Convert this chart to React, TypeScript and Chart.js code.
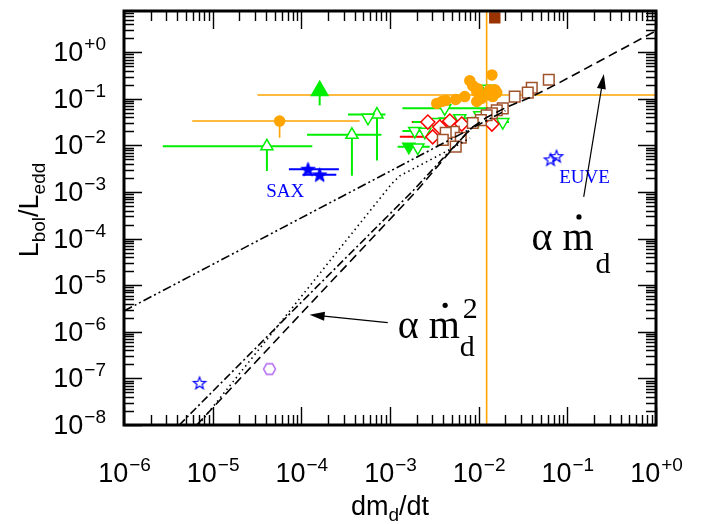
import React, { useEffect, useRef } from "react";
import { Chart, registerables } from "chart.js";

Chart.register(...registerables);

// ---------------- axes ----------------
const X_MIN = 1e-6;
const X_MAX = 1;
const Y_MIN = 1e-8;
const Y_MAX = 7.7;
const X_TICK_EXPONENTS = [-6, -5, -4, -3, -2, -1, 0];
const Y_TICK_EXPONENTS = [-8, -7, -6, -5, -4, -3, -2, -1, 0];

// ---------------- data ----------------
const orangeCluster = [
  { x: 3.37e-3, y: 0.08 }, { x: 3.84e-3, y: 0.088 }, { x: 4.26e-3, y: 0.0925 },
  { x: 5.51e-3, y: 0.097 }, { x: 6.96e-3, y: 0.112 }, { x: 7.94e-3, y: 0.245 },
  { x: 8.58e-3, y: 0.192 }, { x: 9.52e-3, y: 0.143 }, { x: 0.0103, y: 0.13 },
  { x: 9.52e-3, y: 0.088 }, { x: 0.0108, y: 0.102 }, { x: 0.0133, y: 0.158 },
  { x: 0.0141, y: 0.327 }, { x: 0.0144, y: 0.112 }, { x: 0.0152, y: 0.158 },
  { x: 0.016, y: 0.136 }, { x: 9.77e-3, y: 0.166 },
];
const orangeWithErrors = [
  { x: 5.69e-5, y: 0.0334, xl: 5.88e-6, xh: 4.55e-4, yl: 0.0146 },
  { x: 0.0123, y: 0.121, xl: 3.2e-5, xh: 10, yl: 1e-10, yh: 100 },
];
const greenFilledUp = [{ x: 1.61e-4, y: 0.15, yl: 0.0726 }];
const greenOpenUp = [
  { x: 4.09e-5, y: 9.57e-3, xl: 2.74e-6, xh: 1.33e-4, yl: 2.84e-3 },
  { x: 3.72e-4, y: 0.0169, xl: 1.16e-4, xh: 8.0e-4, yl: 2.23e-3 },
  { x: 7.13e-4, y: 0.0462, xl: 3.36e-4, xh: 8.87e-4, yl: 4.78e-3 },
];
const greenOpenDown = [
  { x: 5.65e-4, y: 0.0392 },
  { x: 1.9e-3, y: 0.0205, xl: 1.38e-3, xh: 2.6e-3 },
  { x: 2.47e-3, y: 0.0196 },
  { x: 3.2e-3, y: 0.0318, xl: 1.8e-3, xh: 4.5e-3 },
  { x: 6.12e-3, y: 0.0386, xl: 3.5e-3, xh: 8e-3 },
  { x: 0.0103, y: 0.0447 },
  { x: 0.0187, y: 0.0318, xl: 0.0127, xh: 0.022 },
  { x: 2.06e-3, y: 9.0e-3 },
  { x: 0.0127, y: 0.166, xl: 0.0105, xh: 0.0155 },
  { x: 4.14e-3, y: 0.0627, xl: 1.38e-3, xh: 0.0127 },
];
const greenFilledDown = [
  { x: 1.63e-3, y: 9.44e-3, xl: 1.22e-3, xh: 2.8e-3 },
  { x: 9.77e-3, y: 0.0334 },
];
const redDiamonds = [
  { x: 2.67e-3, y: 0.0318, xl: 1.76e-3, xh: 3.5e-3 },
  { x: 3.64e-3, y: 0.0249 },
  { x: 4.72e-3, y: 0.0334 },
  { x: 6.44e-3, y: 0.0288 },
  { x: 3.03e-3, y: 0.0153, xl: 1.29e-3, xh: 4e-3 },
  { x: 0.0141, y: 0.0288 },
];
const brownOpenSquares = [
  { x: 0.0618, y: 0.257 }, { x: 0.0397, y: 0.174 }, { x: 0.0358, y: 0.136 },
  { x: 0.0255, y: 0.112 }, { x: 0.0187, y: 0.0627 }, { x: 0.016, y: 0.0569 },
  { x: 0.0141, y: 0.0492 }, { x: 0.0123, y: 0.0447 }, { x: 0.0106, y: 0.035 },
  { x: 8.58e-3, y: 0.0303 }, { x: 5.24e-3, y: 0.0196 }, { x: 4.25e-3, y: 0.0186 },
  { x: 3.94e-3, y: 0.0132 }, { x: 6.28e-3, y: 0.0146 },
  { x: 5.51e-3, y: 0.00944, xl: 4.72e-3, xh: 8.36e-3 },
];
const brownFilledSquare = [{ x: 0.0152, y: 5.48 }];
const blueFilledStars = [
  { x: 1.19e-4, y: 3.09e-3, xl: 7.24e-5, xh: 2.65e-4 },
  { x: 1.61e-4, y: 2.34e-3, xl: 1.03e-4, xh: 2.48e-4 },
];
const blueOpenStars = [
  { x: 0.0646, y: 5.02e-3 }, { x: 0.0755, y: 5.89e-3 }, { x: 7.11e-6, y: 8.04e-8 },
];
const purpleHexagon = [{ x: 4.38e-5, y: 1.59e-7 }];

// model curves
const curveDashed = [
  { x: 6.6e-6, y: 1.0e-8 }, { x: 1.09e-4, y: 2.97e-6 }, { x: 2.0e-3, y: 1.06e-3 },
  { x: 4.34e-3, y: 6.0e-3 }, { x: 6.6e-3, y: 0.015 }, { x: 8.6e-3, y: 0.025 },
  { x: 0.0123, y: 0.04 }, { x: 0.0206, y: 0.066 }, { x: 0.0378, y: 0.107 },
  { x: 0.076, y: 0.208 }, { x: 1, y: 2.9 },
];
const curveDashDot = [
  { x: 4.2e-6, y: 1.0e-8 }, { x: 9.1e-5, y: 3.6e-6 }, { x: 1.76e-3, y: 1.0e-3 },
  { x: 4.34e-3, y: 6.4e-3 }, { x: 8.6e-3, y: 0.025 },
];
const curveDotted = [
  { x: 6.9e-6, y: 1.0e-8 }, { x: 8.4e-5, y: 3.8e-6 }, { x: 1.04e-3, y: 1.49e-3 },
  { x: 1.29e-3, y: 2.23e-3 }, { x: 4.34e-3, y: 7.5e-3 }, { x: 8e-3, y: 0.0145 },
];
const curveDashDotDot = [
  { x: 1e-6, y: 2.8e-6 }, { x: 0.02, y: 0.056 },
];

// annotations (data coordinates)
const textLabels = [
  { text: "SAX", x: 6.59e-5, y: 1.01e-3 },
  { text: "EUVE", x: 0.156, y: 2.0e-3 },
];
const arrowLinear = { from: { x: 0.153, y: 7.9e-4 }, to: { x: 0.258, y: 0.343 } };
const arrowSquare = { from: { x: 9.42e-4, y: 1.58e-6 }, to: { x: 1.24e-4, y: 2.33e-6 } };
const labelLinearAt = { x: 0.0394, y: 5.74e-5 };
const labelSquareAt = { x: 1.22e-3, y: 7.26e-7 };

// ---------------- helpers ----------------
const SANS = '"Liberation Sans", Arial, sans-serif';
const SERIF = '"Liberation Serif", "Times New Roman", serif';
const GREEN = "#00ee00";
const ORANGE = "#ffa500";

function makeStar(R: number, color: string, filled: boolean, lw: number) {
  const s = Math.ceil(2 * R + lw * 2 + 2);
  const c = document.createElement("canvas");
  c.width = s; c.height = s;
  const g = c.getContext("2d")!;
  g.beginPath();
  for (let i = 0; i < 10; i++) {
    const r = i % 2 === 0 ? R : R * 0.42;
    const a = -Math.PI / 2 + (i * Math.PI) / 5;
    const px = s / 2 + r * Math.cos(a);
    const py = s / 2 + 0.6 + r * Math.sin(a);
    if (i === 0) g.moveTo(px, py); else g.lineTo(px, py);
  }
  g.closePath();
  if (filled) { g.fillStyle = color; g.fill(); }
  g.strokeStyle = color; g.lineWidth = lw; g.stroke();
  return c;
}
function makeHexagon(R: number, color: string, lw: number) {
  const s = Math.ceil(2 * R + lw * 2 + 2);
  const c = document.createElement("canvas");
  c.width = s; c.height = s;
  const g = c.getContext("2d")!;
  g.beginPath();
  for (let i = 0; i < 6; i++) {
    const a = (i * Math.PI) / 3;
    const px = s / 2 + R * Math.cos(a);
    const py = s / 2 + R * Math.sin(a);
    if (i === 0) g.moveTo(px, py); else g.lineTo(px, py);
  }
  g.closePath();
  g.fillStyle = "#fff"; g.fill();
  g.strokeStyle = color; g.lineWidth = lw; g.stroke();
  return c;
}
function expText(e: number) {
  return e < 0 ? "\u2212" + Math.abs(e) : "+" + e;
}

const errorBarPlugin = {
  id: "errorBars",
  beforeDatasetsDraw(chart: any) {
    const { ctx, chartArea: a, scales } = chart;
    const xs = scales.x, ys = scales.y;
    ctx.save();
    ctx.beginPath();
    ctx.rect(a.left, a.top, a.right - a.left, a.bottom - a.top);
    ctx.clip();
    chart.data.datasets.forEach((ds: any) => {
      if (!ds.errColor) return;
      ctx.strokeStyle = ds.errColor;
      ctx.lineWidth = ds.errWidth || 2;
      ds.data.forEach((p: any) => {
        const px = xs.getPixelForValue(p.x), py = ys.getPixelForValue(p.y);
        ctx.beginPath();
        if (p.xl !== undefined) { ctx.moveTo(xs.getPixelForValue(p.xl), py); ctx.lineTo(px, py); }
        if (p.xh !== undefined) { ctx.moveTo(px, py); ctx.lineTo(xs.getPixelForValue(p.xh), py); }
        if (p.yl !== undefined) { ctx.moveTo(px, py); ctx.lineTo(px, ys.getPixelForValue(p.yl)); }
        if (p.yh !== undefined) { ctx.moveTo(px, py); ctx.lineTo(px, ys.getPixelForValue(p.yh)); }
        ctx.stroke();
      });
    });
    ctx.restore();
  },
};

function drawArrow(ctx: CanvasRenderingContext2D, x1: number, y1: number, x2: number, y2: number) {
  const ang = Math.atan2(y2 - y1, x2 - x1);
  const L = 15, W = 4.5;
  ctx.beginPath();
  ctx.moveTo(x1, y1);
  ctx.lineTo(x2 - Math.cos(ang) * L * 0.8, y2 - Math.sin(ang) * L * 0.8);
  ctx.stroke();
  ctx.beginPath();
  ctx.moveTo(x2, y2);
  ctx.lineTo(x2 - Math.cos(ang) * L - Math.sin(ang) * W, y2 - Math.sin(ang) * L + Math.cos(ang) * W);
  ctx.lineTo(x2 - Math.cos(ang) * L + Math.sin(ang) * W, y2 - Math.sin(ang) * L - Math.cos(ang) * W);
  ctx.closePath();
  ctx.fill();
}

function drawMdot(ctx: CanvasRenderingContext2D, x: number, y: number, squared: boolean) {
  ctx.fillStyle = "#000";
  ctx.textAlign = "left";
  ctx.textBaseline = "alphabetic";
  ctx.font = `40px ${SERIF}`;
  ctx.fillText("\u03b1", x, y);
  ctx.fillText("m", x + 31, y);
  ctx.beginPath();
  ctx.arc(x + 47.5, y - 33, 2.6, 0, Math.PI * 2);
  ctx.fill();
  ctx.font = `30px ${SERIF}`;
  ctx.fillText("d", x + (squared ? 62 : 64), y + (squared ? 18 : 23));
  if (squared) ctx.fillText("2", x + 65, y - 20);
}

const framePlugin = {
  id: "frameTicks",
  afterDatasetsDraw(chart: any) {
    const { ctx, chartArea: a, scales } = chart;
    const xs = scales.x, ys = scales.y;
    ctx.save();
    ctx.strokeStyle = "#000";
    ctx.lineWidth = 1.4;
    ctx.beginPath();
    X_TICK_EXPONENTS.forEach((e) => {
      for (let m = 1; m <= 9; m++) {
        const v = m * Math.pow(10, e);
        if (v < X_MIN * 0.999 || v > X_MAX * 1.001) continue;
        const px = Math.round(xs.getPixelForValue(v)) + 0.5;
        const len = m === 1 ? 18 : 10;
        ctx.moveTo(px, a.bottom); ctx.lineTo(px, a.bottom - len);
        ctx.moveTo(px, a.top); ctx.lineTo(px, a.top + len);
      }
    });
    Y_TICK_EXPONENTS.forEach((e) => {
      for (let m = 1; m <= 9; m++) {
        const v = m * Math.pow(10, e);
        if (v < Y_MIN * 0.999 || v > Y_MAX * 1.001) continue;
        const py = Math.round(ys.getPixelForValue(v)) + 0.5;
        const len = m === 1 ? 18 : 10;
        ctx.moveTo(a.left, py); ctx.lineTo(a.left + len, py);
        ctx.moveTo(a.right, py); ctx.lineTo(a.right - len, py);
      }
    });
    ctx.stroke();
    ctx.lineWidth = 3;
    ctx.strokeRect(a.left, a.top, a.right - a.left, a.bottom - a.top);

    // tick labels
    ctx.fillStyle = "#000";
    ctx.textBaseline = "alphabetic";
    ctx.textAlign = "left";
    const big = `27px ${SANS}`, small = `19px ${SANS}`;
    X_TICK_EXPONENTS.forEach((e) => {
      const px = xs.getPixelForValue(Math.pow(10, e));
      ctx.font = big; const w1 = ctx.measureText("10").width;
      ctx.font = small; const w2 = ctx.measureText(expText(e)).width;
      const x0 = px - (w1 + w2) / 2;
      const base = a.bottom + 57;
      ctx.font = big; ctx.fillText("10", x0, base);
      ctx.font = small; ctx.fillText(expText(e), x0 + w1 + 1, base - 11);
    });
    Y_TICK_EXPONENTS.forEach((e) => {
      const py = ys.getPixelForValue(Math.pow(10, e));
      ctx.font = small; const w2 = ctx.measureText(expText(e)).width;
      ctx.font = big; const w1 = ctx.measureText("10").width;
      const xr = a.left - 18;
      const x0 = xr - w2 - w1 - 1;
      const base = py + 9;
      ctx.font = big; ctx.fillText("10", x0, base);
      ctx.font = small; ctx.fillText(expText(e), x0 + w1 + 1, base - 11);
    });

    // x title: dm_d/dt
    {
      const parts: [string, string, number][] = [["dm", big, 0], ["d", small, 6], ["/dt", big, 0]];
      let tw = 0;
      parts.forEach(([t, f]) => { ctx.font = f; tw += ctx.measureText(t).width; });
      let x0 = (a.left + a.right) / 2 - tw / 2;
      const base = a.bottom + 90;
      parts.forEach(([t, f, dy]) => { ctx.font = f; ctx.fillText(t, x0, base + dy); x0 += ctx.measureText(t).width; });
    }
    // y title: L_bol/L_edd (rotated)
    {
      const parts: [string, string, number][] = [["L", big, 0], ["bol", small, 7], ["/L", big, 0], ["edd", small, 7]];
      let tw = 0;
      parts.forEach(([t, f]) => { ctx.font = f; tw += ctx.measureText(t).width; });
      ctx.save();
      ctx.translate(38, (a.top + a.bottom) / 2 - 8);
      ctx.rotate(-Math.PI / 2);
      let x0 = -tw / 2;
      parts.forEach(([t, f, dy]) => { ctx.font = f; ctx.fillText(t, x0, dy); x0 += ctx.measureText(t).width; });
      ctx.restore();
    }

    // annotations
    ctx.fillStyle = "#0000ff";
    ctx.font = `19px ${SERIF}`;
    ctx.textAlign = "center";
    ctx.textBaseline = "middle";
    textLabels.forEach((l) => {
      ctx.fillText(l.text, xs.getPixelForValue(l.x), ys.getPixelForValue(l.y));
    });
    ctx.strokeStyle = "#000";
    ctx.fillStyle = "#000";
    ctx.lineWidth = 1.2;
    [arrowLinear, arrowSquare].forEach((ar) => {
      drawArrow(ctx,
        xs.getPixelForValue(ar.from.x), ys.getPixelForValue(ar.from.y),
        xs.getPixelForValue(ar.to.x), ys.getPixelForValue(ar.to.y));
    });
    drawMdot(ctx, xs.getPixelForValue(labelLinearAt.x), ys.getPixelForValue(labelLinearAt.y), false);
    drawMdot(ctx, xs.getPixelForValue(labelSquareAt.x), ys.getPixelForValue(labelSquareAt.y), true);
    ctx.restore();
  },
};

function lineDs(data: any[], dash: number[], order = 0) {
  return {
    type: "line",
    data,
    showLine: true,
    borderColor: "#000",
    borderWidth: 1.6,
    borderDash: dash,
    pointRadius: 0,
    fill: false,
    tension: 0,
    order,
  };
}
function pointDs(data: any[], o: any) {
  return {
    data,
    pointStyle: o.style,
    pointRadius: o.r,
    pointRotation: o.rot || 0,
    backgroundColor: o.bg,
    pointBackgroundColor: o.bg,
    borderColor: o.fg,
    pointBorderColor: o.fg,
    borderWidth: o.bw ?? 1.5,
    pointBorderWidth: o.bw ?? 1.5,
    errColor: o.err,
    errWidth: o.errW,
    order: o.order,
  };
}

export default function App() {
  const ref = useRef<HTMLCanvasElement>(null);
  useEffect(() => {
    const blueStar = makeStar(7.5, "#0000ff", true, 1);
    const blueOpenStar = makeStar(6.5, "#0000ff", false, 1.2);
    const hex = makeHexagon(6, "#b060f0", 1.4);
    const datasets: any[] = [
      lineDs(curveDashed, [9, 5], 0),
      lineDs(curveDashDot, [8, 3, 2, 3], 0),
      lineDs(curveDotted, [1.5, 3.5], 0),
      lineDs(curveDashDotDot, [9, 3, 2, 3, 2, 3], 0),
      pointDs(orangeCluster, { style: "circle", r: 5, bg: ORANGE, fg: ORANGE, order: 2 }),
      pointDs(orangeWithErrors, { style: "circle", r: 5, bg: ORANGE, fg: ORANGE, err: ORANGE, errW: 1.6, order: 2 }),
      pointDs(brownOpenSquares, { style: "rect", r: 7.5, bg: "#fff", fg: "#a0522d", order: 3 }),
      pointDs(brownFilledSquare, { style: "rect", r: 7, bg: "#993300", fg: "#993300", order: 3 }),
      pointDs(redDiamonds, { style: "rectRot", r: 7, bg: "#fff", fg: "#ff0000", err: "#ff0000", order: 4 }),
      pointDs(greenOpenDown, { style: "triangle", r: 7, rot: 180, bg: "#fff", fg: GREEN, err: GREEN, order: 5 }),
      pointDs(greenFilledDown, { style: "triangle", r: 7, rot: 180, bg: GREEN, fg: GREEN, err: GREEN, order: 5 }),
      pointDs(greenOpenUp, { style: "triangle", r: 7, bg: "#fff", fg: GREEN, err: GREEN, order: 5 }),
      pointDs(greenFilledUp, { style: "triangle", r: 9.5, bg: GREEN, fg: GREEN, err: GREEN, order: 5 }),
      pointDs(blueFilledStars, { style: blueStar, r: 7, bg: "#0000ff", fg: "#0000ff", err: "#0000ff", order: 6 }),
      pointDs(blueOpenStars, { style: blueOpenStar, r: 7, bg: "#fff", fg: "#0000ff", order: 6 }),
      pointDs(purpleHexagon, { style: hex, r: 7, bg: "#fff", fg: "#b060f0", order: 6 }),
    ];
    const chart = new Chart(ref.current!, {
      type: "scatter",
      data: { datasets },
      options: {
        animation: false,
        responsive: false,
        devicePixelRatio: 1,
        events: [],
        layout: { padding: { left: 124, right: 51, top: 4, bottom: 99 } },
        plugins: { legend: { display: false }, tooltip: { enabled: false } },
        scales: {
          x: { type: "logarithmic", min: X_MIN, max: X_MAX, display: false },
          y: { type: "logarithmic", min: Y_MIN, max: Y_MAX, display: false },
        },
      } as any,
      plugins: [errorBarPlugin, framePlugin],
    } as any);
    return () => chart.destroy();
  }, []);
  return (
    <div style={{ position: "fixed", left: 0, top: 0, width: 707, height: 524, background: "#fff" }}>
      <canvas ref={ref} width={707} height={524} style={{ display: "block", width: 707, height: 524 }} />
    </div>
  );
}
